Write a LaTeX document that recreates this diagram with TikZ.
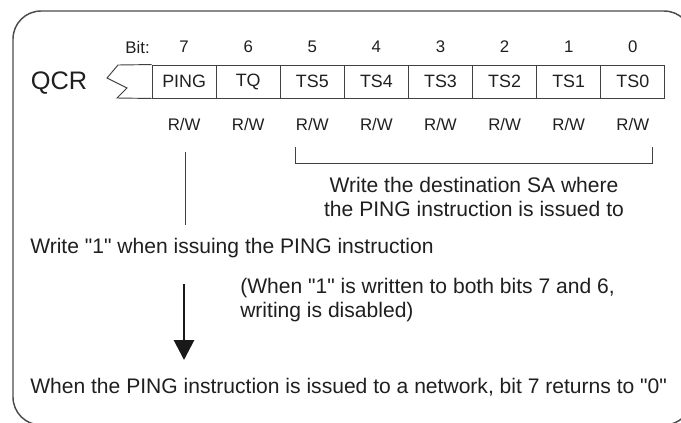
\documentclass[tikz,border=0pt]{standalone}
\usepackage{fontspec}
\setmainfont{Liberation Sans}[Ligatures=TeXOff]
\usepackage{tikz}
\usetikzlibrary{arrows.meta}

\begin{document}
\begin{tikzpicture}[x=0.75pt,y=-0.75pt,
  every node/.style={font=\fontsize{12.6}{18}\selectfont, text=black!88, inner sep=0pt},
  note/.style={font=\fontsize{15.8}{18}\selectfont},
  bitcell/.style={draw=black!75, line width=0.7pt, minimum width=48.08pt, minimum height=24.75pt, font=\fontsize{13.4}{16}\selectfont}]
  \useasboundingbox (0,0) rectangle (681,422);
  % outer frame, clipped at the page edge
  \begin{scope}
    \clip (0,0) rectangle (681,422);
    \draw[black!70, line width=1.1pt, rounded corners=21pt] (13,11) rectangle (692,425);
  \end{scope}
  % register name and bit numbers
  \node[font=\fontsize{19}{22}\selectfont] (qcr) at (59,83) {QCR};
  \node[anchor=east] (bitlbl) at (150,47) {Bit:};
  \node (b7) at (184.1,47) {7};
  \node (b6) at (248.2,47) {6};
  \node (b5) at (312.3,47) {5};
  \node (b4) at (376.4,47) {4};
  \node (b3) at (440.5,47) {3};
  \node (b2) at (504.6,47) {2};
  \node (b1) at (568.7,47) {1};
  \node (b0) at (632.8,47) {0};
  % register cells
  \node[bitcell] (ping) at (184.1,81.5) {PING};
  \node[bitcell] (tq)   at (248.2,81.5) {TQ};
  \node[bitcell] (ts5)  at (312.3,81.5) {TS5};
  \node[bitcell] (ts4)  at (376.4,81.5) {TS4};
  \node[bitcell] (ts3)  at (440.5,81.5) {TS3};
  \node[bitcell] (ts2)  at (504.6,81.5) {TS2};
  \node[bitcell] (ts1)  at (568.7,81.5) {TS1};
  \node[bitcell] (ts0)  at (632.8,81.5) {TS0};
  \draw[black!75, line width=0.7pt] (ping.north west) -- (118,65) -- (107,78) -- (127,88) -- (117,98) -- (ping.south west);
  % access row
  \node (rw7) at (184.1,124) {R/W};
  \node (rw6) at (248.2,124) {R/W};
  \node (rw5) at (312.3,124) {R/W};
  \node (rw4) at (376.4,124) {R/W};
  \node (rw3) at (440.5,124) {R/W};
  \node (rw2) at (504.6,124) {R/W};
  \node (rw1) at (568.7,124) {R/W};
  \node (rw0) at (632.8,124) {R/W};
  % notes
  \coordinate (brl) at (295,147);
  \coordinate (brr) at (652,147);
  \draw[black!75, line width=0.7pt] (brl) -- (295,163) -- (652,163) -- (brr);
  \node[note, align=center] (sanote) at (474,197) {Write the destination SA where\\the PING instruction is issued to};
  \node[note, anchor=west] (setnote) at (30,248) {Write "1" when issuing the PING instruction};
  \coordinate (vtop) at (185,152);
  \coordinate (vbot) at (185,225);
  \draw[black!75, line width=0.7pt] (vtop) -- (vbot);
  \node[note, anchor=west, align=left] (disnote) at (240,300) {(When "1" is written to both bits 7 and 6,\\writing is disabled)};
  \coordinate (atop) at (184,284);
  \coordinate (abot) at (184,360);
  \draw[black!90, line width=2.2pt, -{Triangle[length=15pt,width=15pt]}] (atop) -- (abot);
  \node[note, anchor=west] (clrnote) at (30,387) {When the PING instruction is issued to a network, bit 7 returns to "0"};
\end{tikzpicture}
\end{document}
